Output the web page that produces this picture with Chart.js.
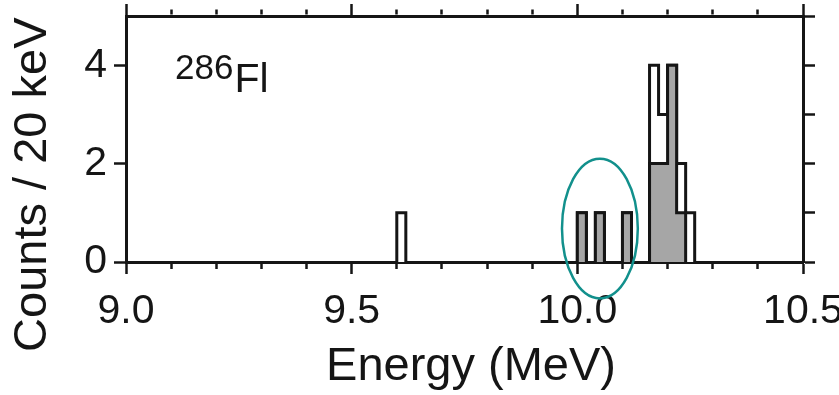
<!DOCTYPE html>
<html>
<head>
<meta charset="utf-8">
<script src="https://cdn.jsdelivr.net/npm/chart.js@4.4.1/dist/chart.umd.min.js"></script>
<style>
  html, body { margin: 0; padding: 0; background: #fff; }
  #wrap { width: 839px; height: 395px; }
</style>
</head>
<body>
<div id="wrap"><canvas id="chart"></canvas></div>
<script>
// 20 keV bins, left edge of each bin in MeV
const binWidth = 0.02;
const binStarts = [9.60, 10.00, 10.04, 10.10, 10.16, 10.18, 10.20, 10.22, 10.24];
const allCounts = [1, 1, 1, 1, 4, 3, 4, 2, 1];    // open histogram
const grayCounts = [0, 1, 1, 1, 2, 2, 4, 1, 0];   // shaded part
const xMajor = [9.0, 9.5, 10.0, 10.5];
const yLabels = [0, 2, 4];
// circled group: centre and half-axes in data units
const ringCenter = [10.05, 0.68];
const ringRadius = [0.084, 1.42];

const FONT = '"Liberation Sans", Arial, Helvetica, sans-serif';
const INK = '#151515';

// step outline points for a histogram (stepped 'before')
const histPoints = (starts, counts) => {
    const pts = [];
    let prevEnd = null;
    starts.forEach((s, i) => {
        if (counts[i] === 0) return;
        if (prevEnd === null || Math.abs(prevEnd - s) > 1e-9) {
            if (prevEnd !== null) pts.push({ x: prevEnd, y: 0 });
            pts.push({ x: s, y: 0 });
        }
        pts.push({ x: s, y: counts[i] });
        prevEnd = s + binWidth;
    });
    pts.push({ x: prevEnd, y: 0 });
    return pts;
};

const isMajor = (c) => c.tick && xMajor.some(m => Math.abs(m - c.tick.value) < 1e-6);
// no outline along the baseline, the axis is there already
const edgeColor = (c) => (c.p0.parsed.y === 0 && c.p1.parsed.y === 0) ? 'rgba(0,0,0,0)' : INK;

const overlay = {
    id: 'overlay',
    afterDatasetsDraw(chart) {
        const { ctx, chartArea, scales: { x, y } } = chart;
        const cx = x.getPixelForValue(ringCenter[0]);
        const cy = y.getPixelForValue(ringCenter[1]);
        const rx = x.getPixelForValue(ringCenter[0] + ringRadius[0]) - cx;
        const ry = cy - y.getPixelForValue(ringCenter[1] + ringRadius[1]);
        ctx.save();
        ctx.strokeStyle = '#12908c';
        ctx.lineWidth = 2.5;
        ctx.beginPath();
        ctx.ellipse(cx, cy, rx, ry, 0, 0, Math.PI * 2);
        ctx.stroke();

        // nuclide label
        ctx.fillStyle = INK;
        ctx.textBaseline = 'alphabetic';
        ctx.textAlign = 'left';
        ctx.font = `35px ${FONT}`;
        const lx = chartArea.left + 49;
        ctx.fillText('286', lx, chartArea.top + 63);
        const w = ctx.measureText('286').width;
        ctx.font = `41px ${FONT}`;
        ctx.fillText('Fl', lx + w + 1, chartArea.top + 76);
        ctx.restore();
    }
};

const xGrid = (top) => ({
    drawOnChartArea: false,
    tickLength: 12,
    tickWidth: 2.5,
    tickColor: INK,
    tickBorderDash: c => isMajor(c) ? [] : [5, 100],
    tickBorderDashOffset: c => (top && !isMajor(c)) ? 99.5 : 0,
});
const yGrid = {
    drawOnChartArea: false,
    tickLength: 12,
    tickWidth: 2.5,
    tickColor: INK,
};
const border = { display: true, color: INK, width: 3 };

new Chart(document.getElementById('chart'), {
    type: 'line',
    data: {
        datasets: [
            {
                data: histPoints(binStarts, grayCounts),
                stepped: true,
                borderColor: INK,
                borderWidth: 3,
                backgroundColor: '#a6a6a6',
                fill: 'origin',
                pointRadius: 0,
                segment: { borderColor: edgeColor },
            },
            {
                data: histPoints(binStarts, allCounts),
                stepped: true,
                borderColor: INK,
                borderWidth: 3,
                backgroundColor: '#ffffff',
                fill: 'origin',
                pointRadius: 0,
                segment: { borderColor: edgeColor },
            },
        ]
    },
    options: {
        responsive: true,
        maintainAspectRatio: false,
        animation: false,
        layout: { padding: 0 },
        plugins: {
            legend: { display: false },
            tooltip: { enabled: false },
        },
        scales: {
            x: {
                type: 'linear',
                position: 'bottom',
                min: 9.0,
                max: 10.5,
                ticks: {
                    stepSize: 0.1,
                    autoSkip: false,
                    maxRotation: 0,
                    minRotation: 0,
                    padding: 13,
                    color: INK,
                    font: { family: FONT, size: 41 },
                    callback: (v) => xMajor.some(m => Math.abs(m - v) < 1e-6) ? v.toFixed(1) : '',
                },
                grid: xGrid(false),
                border: border,
                title: {
                    display: true,
                    text: ' Energy (MeV)',
                    color: INK,
                    font: { family: FONT, size: 47 },
                    padding: { top: 0, bottom: 0 },
                },
                afterFit: (s) => { s.height = 133; s.paddingLeft = 0; s.paddingRight = 0; },
            },
            x2: {
                type: 'linear',
                position: 'top',
                min: 9.0,
                max: 10.5,
                ticks: { display: false, stepSize: 0.1, autoSkip: false },
                grid: xGrid(true),
                border: border,
                afterFit: (s) => { s.height = 16; s.paddingLeft = 0; s.paddingRight = 0; },
            },
            y: {
                position: 'left',
                min: 0,
                max: 5,
                ticks: {
                    stepSize: 1,
                    padding: 7,
                    color: INK,
                    font: { family: FONT, size: 41 },
                    callback: (v) => yLabels.includes(v) ? String(v) : '',
                },
                grid: yGrid,
                border: border,
                title: {
                    display: true,
                    text: 'Counts / 20 keV       ',
                    color: INK,
                    font: { family: FONT, size: 47 },
                    padding: { top: 5, bottom: 0 },
                },
                afterFit: (s) => { s.width = 126; s.paddingTop = 0; s.paddingBottom = 0; },
            },
            y2: {
                position: 'right',
                min: 0,
                max: 5,
                ticks: { display: false, stepSize: 1 },
                grid: yGrid,
                border: border,
                afterFit: (s) => { s.width = 36; s.paddingTop = 0; s.paddingBottom = 0; },
            },
        }
    },
    plugins: [overlay]
});
</script>
</body>
</html>
